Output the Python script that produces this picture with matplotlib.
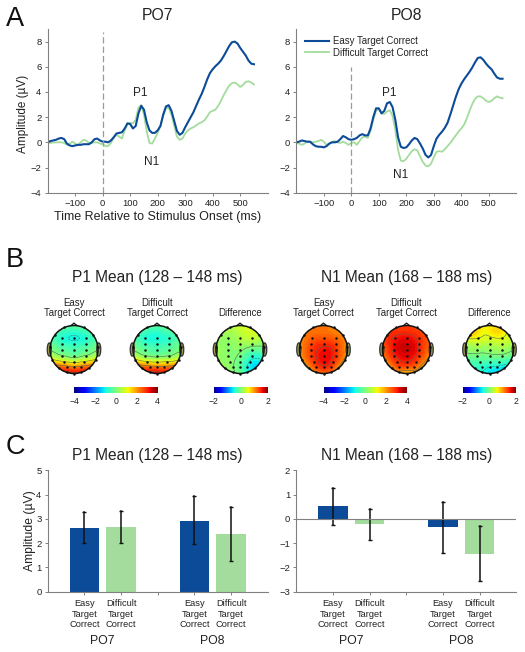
import numpy as np
import matplotlib
matplotlib.use('Agg')
from matplotlib import pyplot as plt
from matplotlib import tri as mtri
from matplotlib.patches import Circle, Ellipse
from matplotlib.cm import ScalarMappable
from matplotlib.colors import Normalize

plt.rcParams['font.family'] = ['Liberation Sans', 'DejaVu Sans']

W, H = 525, 652
BLUE = '#0c4b98'
GREEN = '#a3dc9c'
AXIS = '#808080'
TXT = '#222222'

# ERP waveforms, one value every 10 ms from -200 to 550
time = np.arange(-200, 551, 10)
po7_easy = [0.0, 0.1, 0.15, 0.2, 0.3, 0.35, 0.25, -0.1, -0.25, -0.3, -0.25, -0.2, -0.2, -0.15, -0.15, -0.15, 0.0, 0.25, 0.3, 0.15,
            0.05, 0.05, 0.0, 0.15, 0.4, 0.7, 0.75, 0.8, 1.1, 1.5, 1.45, 1.1, 1.3, 2.3, 2.9, 2.6, 1.6, 0.95, 0.75, 0.75,
            0.95, 1.3, 2.2, 2.85, 2.95, 2.5, 1.7, 0.9, 0.6, 0.75, 1.2, 1.6, 2.0, 2.4, 2.9, 3.4, 3.85, 4.4, 5.0, 5.5,
            5.8, 6.05, 6.25, 6.5, 6.85, 7.25, 7.65, 7.95, 8.0, 7.85, 7.5, 7.2, 6.9, 6.5, 6.25, 6.2]
po7_diff = [-0.05, -0.05, 0, 0, 0, 0, -0.05, -0.2, -0.1, 0.05, -0.1, -0.2, 0.0, 0.2, 0.15, -0.05, -0.05, 0.0, 0.0, -0.1,
            -0.15, -0.3, -0.3, -0.05, 0.35, 0.6, 0.45, 0.3, 0.95, 1.5, 1.55, 1.5, 1.8, 2.75, 2.95, 2.2, 0.9, -0.05, -0.1, 0.3,
            0.75, 1.3, 2.1, 2.7, 2.75, 2.2, 1.3, 0.45, 0.2, 0.3, 0.7, 0.95, 1.1, 1.2, 1.35, 1.5, 1.6, 1.75, 2.05, 2.4,
            2.5, 2.6, 2.9, 3.3, 3.75, 4.15, 4.5, 4.7, 4.75, 4.6, 4.4, 4.55, 4.8, 4.85, 4.75, 4.6]
po8_easy = [0, 0.05, 0.15, 0.1, 0.05, 0.05, -0.15, -0.3, -0.35, -0.35, -0.4, -0.3, -0.1, 0, 0, 0.05, 0.25, 0.5, 0.4, 0.25,
            0.2, 0.25, 0.35, 0.55, 0.65, 0.55, 0.55, 1.1, 2.0, 2.7, 2.7, 2.3, 2.5, 3.1, 3.2, 2.8, 1.8, 0.4, -0.35, -0.45,
            -0.4, -0.15, 0.15, 0.35, 0.25, -0.1, -0.5, -1.0, -1.2, -1.0, -0.3, 0.3, 0.6, 0.85, 1.15, 1.55, 2.2, 2.9, 3.6, 4.2,
            4.65, 5.0, 5.3, 5.6, 5.95, 6.35, 6.7, 6.75, 6.55, 6.25, 6.0, 5.8, 5.45, 5.15, 5.05, 5.05]
po8_diff = [-0.05, -0.1, -0.2, -0.1, 0.05, 0.05, 0.0, 0.05, 0.1, 0.2, 0.05, -0.2, -0.1, 0.05, 0.1, 0.0, -0.05, 0.05, -0.05, -0.2,
            -0.05, 0.0, -0.2, 0.1, 0.4, 0.45, 0.35, 0.9, 1.8, 2.5, 2.65, 2.3, 2.25, 2.45, 2.55, 2.1, 1.0, -0.6, -1.45, -1.5,
            -1.3, -1.0, -0.7, -0.55, -0.65, -1.1, -1.55, -1.85, -1.9, -1.7, -1.2, -0.75, -0.7, -0.75, -0.55, -0.3, -0.05, 0.25, 0.55, 0.85,
            1.1, 1.4, 1.9, 2.5, 3.05, 3.45, 3.65, 3.65, 3.5, 3.3, 3.2, 3.3, 3.5, 3.65, 3.55, 3.5]

# bar means and error bar ends: easy PO7, difficult PO7, easy PO8, difficult PO8
bar_pos = [1, 2, 4, 5]
bar_colors = [BLUE, GREEN, BLUE, GREEN]
bar_names = ['Easy\nTarget\nCorrect', 'Difficult\nTarget\nCorrect'] * 2
p1_mean = [2.62, 2.65, 2.93, 2.37]
p1_lo = [2.0, 2.02, 1.98, 1.27]
p1_hi = [3.27, 3.33, 3.93, 3.47]
n1_mean = [0.52, -0.23, -0.35, -1.45]
n1_lo = [-0.25, -0.88, -1.4, -2.57]
n1_hi = [1.28, 0.42, 0.7, -0.3]

# scalp maps: rows front to back, columns left to right, on a 7x7 grid
p1_easy_map = [[-0.2, -0.2, -0.2, -0.2, -0.2, -0.2, -0.2],
               [-0.3, -0.5, -0.7, -0.8, -0.7, -0.5, -0.3],
               [-0.3, -0.6, -0.9, -1.0, -0.9, -0.6, -0.3],
               [-0.1, -0.2, -0.4, -0.5, -0.4, -0.2, -0.1],
               [0.8, 0.6, 0.3, 0.1, 0.3, 0.6, 0.8],
               [2.4, 2.5, 2.3, 2.1, 2.3, 2.5, 2.4],
               [3.0, 3.2, 3.3, 3.2, 3.3, 3.2, 3.0]]
p1_diff_map = [[-0.2, -0.2, -0.2, -0.2, 0.0, 0.2, 0.5],
               [-0.3, -0.5, -0.7, -0.8, -0.6, -0.4, 0.0],
               [-0.3, -0.6, -0.9, -0.9, -0.8, -0.5, -0.2],
               [-0.1, -0.2, -0.4, -0.5, -0.4, -0.2, -0.1],
               [0.8, 0.6, 0.3, 0.2, 0.3, 0.5, 0.7],
               [2.4, 2.5, 2.3, 2.2, 2.2, 2.3, 2.2],
               [2.9, 3.1, 3.3, 3.3, 3.1, 3.0, 2.8]]
p1_delta_map = [[0.3, 0.3, 0.3, 0.4, 0.5, 0.5, 0.5],
                [0.2, 0.2, 0.2, 0.3, 0.4, 0.4, 0.4],
                [0.2, 0.1, 0.1, 0.2, 0.25, 0.2, 0.2],
                [0.2, 0.1, 0.05, 0.05, -0.1, -0.15, -0.1],
                [0.2, 0.1, 0.05, -0.1, -0.4, -0.5, -0.35],
                [0.25, 0.15, 0.05, -0.2, -0.55, -0.65, -0.5],
                [0.3, 0.2, 0.1, -0.1, -0.4, -0.55, -0.5]]
n1_easy_map = [[2.0, 2.2, 2.3, 2.4, 2.2, 2.0, 1.8],
               [2.0, 2.2, 2.3, 2.3, 2.2, 2.0, 1.8],
               [2.0, 2.3, 2.6, 2.7, 2.6, 2.3, 2.0],
               [2.0, 2.4, 2.9, 3.1, 3.0, 2.4, 2.0],
               [1.7, 2.3, 2.9, 3.2, 3.0, 2.3, 1.5],
               [1.1, 1.8, 2.5, 2.9, 2.6, 1.7, 0.9],
               [0.7, 1.2, 1.7, 2.0, 1.8, 1.1, 0.5]]
n1_diff_map = [[2.4, 2.6, 2.7, 2.7, 2.6, 2.4, 2.2],
               [2.5, 2.8, 2.9, 2.9, 2.8, 2.6, 2.3],
               [2.5, 2.9, 3.2, 3.3, 3.1, 2.7, 2.4],
               [2.3, 2.8, 3.3, 3.4, 3.2, 2.6, 2.2],
               [1.8, 2.5, 3.0, 3.2, 2.9, 2.3, 1.6],
               [1.0, 1.8, 2.5, 2.5, 2.3, 1.6, 0.9],
               [0.6, 1.2, 1.3, 1.0, 1.3, 1.1, 0.5]]
n1_delta_map = [[0.5, 0.6, 0.6, 0.6, 0.6, 0.5, 0.4],
                [0.6, 0.8, 0.6, 0.6, 0.7, 0.5, 0.4],
                [0.35, 0.4, 0.4, 0.35, 0.4, 0.35, 0.25],
                [0.1, 0.1, 0.1, 0.1, 0.15, 0.1, 0.0],
                [-0.15, -0.15, -0.15, -0.15, -0.15, -0.2, -0.25],
                [-0.35, -0.4, -0.4, -0.5, -0.55, -0.65, -0.65],
                [-0.35, -0.5, -0.55, -0.6, -0.8, -0.9, -0.9]]

map_titles = ['Easy\nTarget Correct', 'Difficult\nTarget Correct', 'Difference'] * 2
map_values = [p1_easy_map, p1_diff_map, p1_delta_map, n1_easy_map, n1_diff_map, n1_delta_map]
map_limits = [4, 4, 2, 4, 4, 2]
map_steps = [1, 1, 0.5, 1, 1, 0.5]
map_centers = [74, 157, 240, 323.5, 406.5, 489.5]

# electrode positions on the unit head
elec_x = [-0.5, 0, 0.5, -0.52, 0, 0.52, -0.52, 0, 0.52, -0.52, 0, 0.52, -0.4, 0, 0.4, -0.3, 0, 0.3,
          -0.42, 0.42, -0.8, 0.8, -0.98, 0.98, -0.9, 0.9, -0.62, 0.62, -0.3, 0.3, 0]
elec_y = [0.5, 0.5, 0.5, 0.25, 0.25, 0.25, 0, 0, 0, -0.25, -0.25, -0.25, -0.5, -0.5, -0.5, -0.73, -0.73, -0.73,
          0.92, 0.92, 0.6, 0.6, 0.1, 0.1, -0.42, -0.42, -0.78, -0.78, -0.95, -0.95, -1.0]


def px_axes(left, top, right, bottom):
    return fig.add_axes([left / W, 1 - bottom / H, (right - left) / W, (bottom - top) / H])


def clean(ax):
    ax.spines['top'].set_visible(False)
    ax.spines['right'].set_visible(False)
    ax.spines['left'].set_color(AXIS)
    ax.spines['bottom'].set_color(AXIS)
    ax.tick_params(colors=AXIS, labelcolor=TXT, labelsize=6.8, length=2.5, width=0.7, pad=2)


def erp(ax, easy, diff, line_top, p1_xy, n1_xy):
    ax.plot(time, diff, color=GREEN, lw=1.3, label='Difficult Target Correct')
    ax.plot(time, easy, color=BLUE, lw=1.5, label='Easy Target Correct')
    ax.plot([0, 0], [-4, line_top], color='#999999', lw=0.9, dashes=(5, 2.5))
    ax.set_xlim(-200, 600)
    ax.set_ylim(-4, 9)
    ax.set_xticks([-100, 0, 100, 200, 300, 400, 500])
    ax.set_yticks([-4, -2, 0, 2, 4, 6, 8])
    clean(ax)
    ax.text(p1_xy[0], p1_xy[1], 'P1', ha='center', va='center', fontsize=8.5, color=TXT)
    ax.text(n1_xy[0], n1_xy[1], 'N1', ha='center', va='center', fontsize=8.5, color=TXT)


def head(cx, title, values, lim, step):
    ax = px_axes(cx - 30, 349.5 - 30, cx + 30, 349.5 + 30)
    ax.set_xlim(-30 / 24, 30 / 24)
    ax.set_ylim(-30 / 24, 30 / 24)
    ax.axis('off')
    xs = np.linspace(-1.1, 1.1, 7)
    gx, gy = np.meshgrid(xs, xs[::-1])
    z = np.array(values, dtype=float)
    tr = mtri.Triangulation(gx.ravel(), gy.ravel())
    fine, zf = mtri.UniformTriRefiner(tr).refine_field(z.ravel(), subdiv=3)
    clip = Circle((0, 0), 1, transform=ax.transData)
    cf = ax.tricontourf(fine, zf, levels=np.linspace(-lim, lim, 65), cmap='jet', extend='both')
    cf.set_clip_path(clip)
    cl = ax.tricontour(fine, zf, levels=np.arange(-lim, lim + step, step), colors='#556655', linewidths=0.4)
    cl.set_clip_path(clip)
    for sx in [-1, 1]:
        ax.add_patch(Ellipse((sx * 1.03, 0.0), 0.17, 0.55, fc='#9a9a55', ec='#333333', lw=0.9, zorder=1))
    ax.add_patch(Circle((0, 0), 1, fc='none', ec='#111111', lw=1.1, zorder=4))
    ax.plot([-0.12, 0, 0.12], [1.0, 1.1, 1.0], color='#111111', lw=0.9, zorder=4)
    ax.scatter(elec_x, elec_y, s=3.2, color='#111111', lw=0, zorder=5)
    for i, line in enumerate(title.split('\n')[::-1]):
        fig.text(cx / W, 1 - (313.5 - 10.7 * i) / H, line, ha='center', va='center', fontsize=6.9, color=TXT)


def colorbar(left, right, lim, ticks):
    cax = px_axes(left, 387, right, 393)
    cb = fig.colorbar(ScalarMappable(Normalize(-lim, lim), 'jet'), cax=cax, orientation='horizontal')
    cb.set_ticks(ticks)
    cb.outline.set_visible(False)
    cb.ax.tick_params(length=0, labelsize=6.2, labelcolor=TXT, pad=3)


def bars(ax, means, lo, hi, ylim, yticks):
    ax.bar(bar_pos, means, width=0.8, color=bar_colors)
    for p, a, b in zip(bar_pos, lo, hi):
        ax.plot([p, p], [a, b], color='#111111', lw=1.1, marker='_', ms=2.5, mew=1)
    ax.set_xlim(0, 6)
    ax.set_ylim(*ylim)
    ax.set_xticks([1, 2, 3, 4, 5])
    ax.set_xticklabels([bar_names[0], bar_names[1], '', bar_names[2], bar_names[3]])
    ax.set_yticks(yticks)
    clean(ax)
    ax.tick_params(axis='x', labelsize=6.7, pad=3)
    ax.text(1.5, -0.405, 'PO7', transform=ax.get_xaxis_transform(), ha='center', va='center', fontsize=8.8, color=TXT, clip_on=False)
    ax.text(4.5, -0.405, 'PO8', transform=ax.get_xaxis_transform(), ha='center', va='center', fontsize=8.8, color=TXT, clip_on=False)


fig = plt.figure(figsize=(W / 100, H / 100), dpi=100)

# A
ax1 = px_axes(47.7, 29, 267.7, 192.7)
erp(ax1, po7_easy, po7_diff, 8.8, (138, 3.95), (178, -1.6))
ax1.set_ylabel('Amplitude (\u00b5V)', fontsize=8.5, color=TXT)
ax1.yaxis.set_label_coords(-0.087, 0.48)
ax1.set_xlabel('Time Relative to Stimulus Onset (ms)', fontsize=9, color=TXT, labelpad=2)
ax2 = px_axes(296.3, 29, 516.3, 192.7)
erp(ax2, po8_easy, po8_diff, 6.0, (138, 3.9), (180, -2.6))
handles, labels = ax2.get_legend_handles_labels()
ax2.legend(handles[::-1], labels[::-1], loc='upper left', bbox_to_anchor=(0.02, 0.985), frameon=False, fontsize=6.9,
           labelcolor=TXT, handlelength=2.5, handletextpad=0.4, labelspacing=0.15, borderpad=0.2, borderaxespad=0.3)
fig.text(157.5 / W, 1 - 15.5 / H, 'PO7', ha='center', va='center', fontsize=11.3, color=TXT)
fig.text(406.5 / W, 1 - 15.5 / H, 'PO8', ha='center', va='center', fontsize=11.3, color=TXT)

# B
for c, t, v, l, s in zip(map_centers, map_titles, map_values, map_limits, map_steps):
    head(c, t, v, l, s)
colorbar(74.3, 157.7, 4, [-4, -2, 0, 2, 4])
colorbar(213.7, 267.7, 2, [-2, 0, 2])
colorbar(323.7, 407, 4, [-4, -2, 0, 2, 4])
colorbar(463, 516, 2, [-2, 0, 2])

# C
ax3 = px_axes(47.7, 470.3, 267.7, 591.7)
bars(ax3, p1_mean, p1_lo, p1_hi, (0, 5), [0, 1, 2, 3, 4, 5])
ax3.set_ylabel('Amplitude (\u00b5V)', fontsize=8.7, color=TXT)
ax3.yaxis.set_label_coords(-0.055, 0.5)
ax4 = px_axes(296.3, 470.3, 516.3, 591.7)
bars(ax4, n1_mean, n1_lo, n1_hi, (-3, 2), [-3, -2, -1, 0, 1, 2])
ax4.axhline(0, color=AXIS, lw=0.8, zorder=3)

for y in [277.5, 455.5]:
    fig.text(157.5 / W, 1 - y / H, 'P1 Mean (128 \u2013 148 ms)', ha='center', va='center', fontsize=11.2, color=TXT)
    fig.text(406.5 / W, 1 - y / H, 'N1 Mean (168 \u2013 188 ms)', ha='center', va='center', fontsize=11.2, color=TXT)

for letter, y in zip('ABC', [19, 260, 447]):
    fig.text(6 / W, 1 - y / H, letter, ha='left', va='center', fontsize=19.5, color='#111111')

fig.savefig('out.png', dpi=100)
